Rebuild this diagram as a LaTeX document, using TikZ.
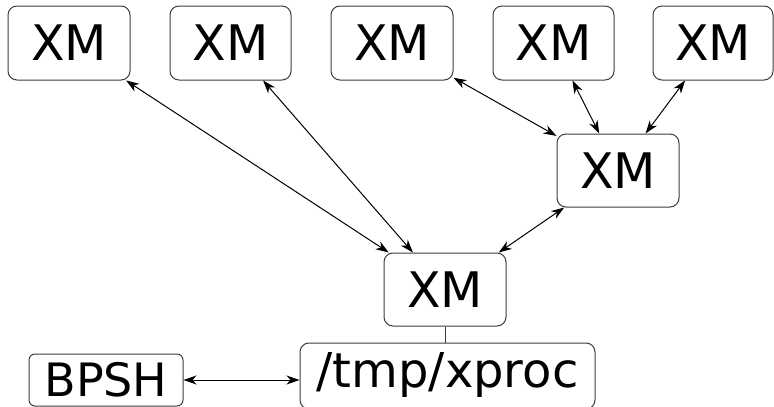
\documentclass[tikz,border=0pt]{standalone}
\usepackage{fontspec}
\setmainfont{DejaVu Sans}
\usetikzlibrary{positioning, calc, arrows.meta}
\definecolor{boxgray}{RGB}{60,60,60}

\begin{document}
\begin{tikzpicture}[
        x=1pt, y=-1pt,
        xm/.style={rectangle, draw=boxgray, line width=1pt, rounded corners=9pt, minimum width=122pt, minimum height=74pt, inner sep=0pt, font=\fontsize{49}{58}\selectfont},
        procbox/.style={xm, minimum width=295pt, minimum height=66pt, font=\fontsize{48}{58}\selectfont},
        shbox/.style={xm, rounded corners=6pt, minimum width=154pt, minimum height=52pt, font=\fontsize{46}{54}\selectfont},
        link/.style={<->, >={Stealth[length=13pt, width=9pt, inset=4pt]}, line width=1pt},
        plain/.style={line width=1pt, draw=boxgray},
    ]
    \useasboundingbox (0,0) rectangle (774,407);

    % ===== Top row =====
    \node[xm] (XM1) at (69,43) {XM};
    \node[xm, minimum width=121pt] (XM2) at (230.5,43) {XM};
    \node[xm] (XM3) at (392,43) {XM};
    \node[xm, minimum width=121pt] (XM4) at (553.5,43) {XM};
    \node[xm, minimum width=120pt] (XM5) at (713,43) {XM};

    % ===== Middle / root =====
    \node[xm, minimum height=73pt] (XMM) at (618,170.5) {XM};
    \node[xm, minimum height=73pt] (XMR) at (445,289.5) {XM};

    % ===== Bottom row =====
    \node[procbox, text depth=13pt] (PROC) at (447.5,376) {/tmp/xproc};
    \node[shbox] (BPSH) at (106,380) {BPSH};

    % ===== Links =====
    \draw[link] (XM1) -- (XMR);
    \draw[link] (XM2) -- (XMR);
    \draw[link] (XM3) -- (XMM);
    \draw[link] (XM4) -- (XMM);
    \draw[link] (XM5) -- (XMM);
    \draw[link] (XMM) -- (XMR);
    \draw[plain] (XMR.south) -- (XMR.south |- PROC.north);
    \draw[link] (BPSH.east) -- (BPSH.east -| PROC.west);

\end{tikzpicture}
\end{document}
